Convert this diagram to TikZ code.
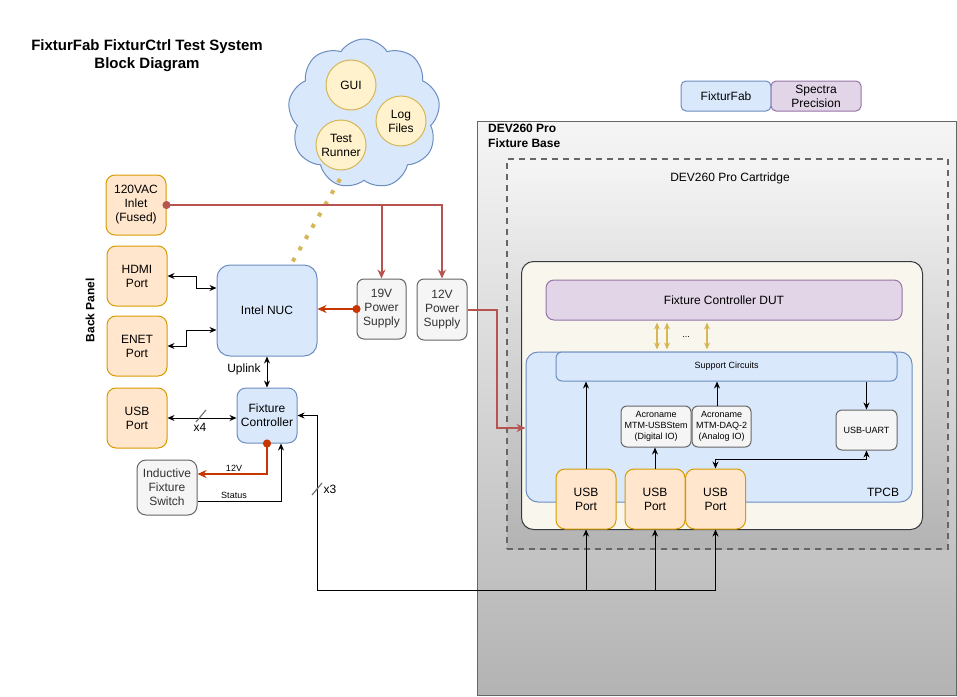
\documentclass[tikz,border=0pt]{standalone}
\usepackage{fontspec}
\setmainfont{Liberation Sans}
\usetikzlibrary{arrows.meta,shapes.symbols,calc}
\definecolor{bluefill}{HTML}{DAE8FC}
\definecolor{bluestroke}{HTML}{6C8EBF}
\definecolor{orfill}{HTML}{FFE6CC}
\definecolor{orstroke}{HTML}{D79B00}
\definecolor{yfill}{HTML}{FFF2CC}
\definecolor{ystroke}{HTML}{D6B656}
\definecolor{gfill}{HTML}{F5F5F5}
\definecolor{gstroke}{HTML}{666666}
\definecolor{pfill}{HTML}{E1D5E7}
\definecolor{pstroke}{HTML}{9673A6}
\definecolor{redline}{HTML}{B85450}
\definecolor{orline}{HTML}{C73500}
\definecolor{creamfill}{HTML}{F9F7ED}
\definecolor{creamstroke}{HTML}{36393D}
\definecolor{basebottom}{HTML}{B3B3B3}
\tikzset{
  fs12/.style={font=\fontsize{12}{14}\selectfont},
  fs9/.style={font=\fontsize{9}{11}\selectfont},
  box/.style={draw, rounded corners=9pt, align=center, inner sep=0pt, fs12, line width=1pt},
  portbox/.style={box, fill=orfill, draw=orstroke, minimum width=60pt, minimum height=60pt},
  bluebox/.style={box, fill=bluefill, draw=bluestroke},
  graybox/.style={box, fill=gfill, draw=gstroke},
  purplebox/.style={box, fill=pfill, draw=pstroke},
  swcircle/.style={circle, draw=ystroke, fill=yfill, minimum size=50pt, inner sep=0pt, align=center, fs12, line width=1pt},
  conn/.style={draw=black, line width=1pt},
  tipA/.tip={Stealth[length=7pt,width=6pt]},
  arr/.style={conn, -tipA},
  biarr/.style={conn, tipA-tipA},
  redarr/.style={draw=redline, line width=2pt, -{Stealth[length=9pt,width=8pt]}},
  orarr/.style={draw=orline, line width=2pt, {Circle[length=8pt]}-{Stealth[length=9pt,width=8pt]}, shorten <=-4pt},
  slash/.style={draw=gray!90!black, line width=1.2pt},
  lbl/.style={inner sep=0pt, fs12},
  smalllbl/.style={inner sep=0pt, fs9},
}
\begin{document}
\begin{tikzpicture}[x=1pt,y=-1pt]
\useasboundingbox (0,0) rectangle (957,696);
% title
\node[font=\bfseries\fontsize{15}{18}\selectfont, align=center, inner sep=0pt] (title) at (147,56) {FixturFab FixturCtrl Test System\\Block Diagram};
% cloud
\node[cloud, cloud puffs=9, cloud puff arc=115, aspect=1, draw=bluestroke, fill=bluefill, minimum width=152pt, minimum height=150pt, line width=1pt] (cloud) at (364,114) {};
\node[swcircle] (gui) at (351,85) {GUI};
\node[swcircle] (logs) at (401,121) {Log\\Files};
\node[swcircle] (runner) at (341,145) {Test\\Runner};
% legend
\node[bluebox, rounded corners=5pt, minimum width=90pt, minimum height=30pt] (legfab) at (726,96) {FixturFab};
\node[purplebox, rounded corners=5pt, minimum width=90pt, minimum height=30pt] (legsp) at (816,96) {Spectra\\Precision};
% fixture base
\node[draw=gstroke, line width=1pt, top color=gfill, bottom color=basebottom, minimum width=479pt, minimum height=574pt, inner sep=0pt, anchor=north west] (base) at (477,121) {};
\node[anchor=north west, align=left, inner sep=0pt, font=\bfseries\fontsize{12}{15}\selectfont] (baselbl) at (488,124) {DEV260 Pro\\Fixture Base};
% cartridge
\node[draw=gstroke, line width=2pt, dash pattern=on 6pt off 5pt, top color=gfill, bottom color=basebottom, minimum width=441pt, minimum height=390pt, inner sep=0pt, anchor=north west] (cart) at (506,158) {};
\node[lbl] (cartlbl) at (730,178) {DEV260 Pro Cartridge};
% cream board
\node[draw=creamstroke, fill=creamfill, line width=1pt, rounded corners=12pt, minimum width=401pt, minimum height=268pt, inner sep=0pt, anchor=north west] (board) at (521,261) {};
\node[purplebox, minimum width=356pt, minimum height=40pt, rounded corners=8pt] (dut) at (724,300) {Fixture Controller DUT};
\node[bluebox, minimum width=386pt, minimum height=150pt, rounded corners=12pt] (tpcb) at (719,427) {};
\node[lbl] (tpcblbl) at (883,492) {TPCB};
\node[bluebox, fs9, minimum width=341pt, minimum height=29pt, rounded corners=6pt] (sc) at (726.5,366.5) {Support Circuits};
\node[graybox, fs9, minimum width=70pt, minimum height=41pt, rounded corners=6pt] (stem) at (656,426.5) {Acroname\\MTM-USBStem\\(Digital IO)};
\node[graybox, fs9, minimum width=59pt, minimum height=41pt, rounded corners=6pt] (daq) at (721.5,426.5) {Acroname\\MTM-DAQ-2\\(Analog IO)};
\node[graybox, fs9, minimum width=61pt, minimum height=40pt, rounded corners=6pt] (uart) at (866.5,430) {USB-UART};
\node[portbox] (p1) at (586,499) {USB\\Port};
\node[portbox] (p2) at (655,499) {USB\\Port};
\node[portbox] (p3) at (715.5,499) {USB\\Port};
% yellow bidirectional arrows
\foreach \xx/\nm in {657/ya,667/yb,707/yc}{
  \coordinate (\nm) at (\xx,0);
  \draw[draw=ystroke, line width=1.3pt, {Stealth[length=7pt,width=6pt]}-{Stealth[length=7pt,width=6pt]}, shorten <=2pt, shorten >=2pt] (dut.south -| \nm) -- (sc.north -| \nm);
}
\node[smalllbl] (dots) at (686,337) {...};
% inner connectors
\draw[arr] (p1.north) -- (p1.north |- sc.south);
\draw[arr] (p2.north) -- (p2.north |- stem.south);
\coordinate (daqx) at (717,0);
\draw[arr] (daq.north -| daqx) -- (sc.south -| daqx);
\draw[arr] (sc.south -| uart.north) -- (uart.north);
\draw[biarr] (p3.north) -- ++(0,-9) -| (uart.south);
% left side nodes
\node[portbox] (inlet) at (136,205) {120VAC\\Inlet\\(Fused)};
\node[portbox] (hdmi) at (137,276) {HDMI\\Port};
\node[portbox] (enet) at (137,346) {ENET\\Port};
\node[portbox] (usb) at (137,418) {USB\\Port};
\node[rotate=90, inner sep=0pt, font=\bfseries\fontsize{12}{14}\selectfont] (bp) at (90,310) {Back Panel};
\node[bluebox, minimum width=100pt, minimum height=91pt, rounded corners=13pt] (nuc) at (267,310.5) {Intel NUC};
\node[graybox, minimum width=49pt, minimum height=60pt, rounded corners=7pt, text=black!80] (ps19) at (381.5,309) {19V\\Power\\Supply};
\node[graybox, minimum width=50pt, minimum height=61pt, rounded corners=7pt, text=black!80] (ps12) at (442,309.5) {12V\\Power\\Supply};
\node[bluebox, minimum width=60pt, minimum height=55pt] (fc) at (267,415.5) {Fixture\\Controller};
\node[graybox, minimum width=60pt, minimum height=55pt, text=black!80] (ifs) at (167,487.5) {Inductive\\Fixture\\Switch};
% cloud dotted link
\coordinate (dotA) at (340,179);
\coordinate (dotB) at (291,0);
\draw[draw=ystroke, line width=4pt, dash pattern=on 4pt off 9pt] (dotA) -- (nuc.north -| dotB);
% left connectors
\coordinate (hdmiK) at (196,288);
\draw[biarr] (hdmi.east) -| (hdmiK) -- (nuc.west |- hdmiK);
\coordinate (enetK) at (186,330);
\draw[biarr] (enet.east) -| (enetK) -- (nuc.west |- enetK);
\draw[biarr] (nuc.south) -- (fc.north);
\node[lbl] (uplink) at (244,369) {Uplink};
\draw[biarr] (usb.east) -- (usb.east -| fc.west);
\coordinate (s4a) at (196,422);
\coordinate (s4b) at (206,410);
\draw[slash] (s4a) -- (s4b);
\node[lbl] (x4) at (200,427) {x4};
% power
\draw[draw=redline, line width=2pt, {Circle[length=8pt]}-{Stealth[length=9pt,width=8pt]}, shorten <=-4pt] (inlet.east) -| (ps12.north);
\draw[redarr] (ps19.north |- inlet.east) -- (ps19.north);
\draw[orarr] (ps19.west) -- (nuc.east |- ps19.west);
\coordinate (k12) at (497,428);
\draw[redarr] (ps12.east) -| (k12) -- (tpcb.west |- k12);
\coordinate (k12v) at (0,474);
\draw[orarr] (fc.south) |- (ifs.east |- k12v);
\node[smalllbl] (l12v) at (234,468) {12V};
\coordinate (kst) at (0,501);
\coordinate (kstx) at (281,0);
\draw[arr] (ifs.east |- kst) -| (fc.south -| kstx);
\node[smalllbl] (lstatus) at (234,495) {Status};
% x3 bus
\coordinate (busL) at (317,590);
\draw[arr] (busL) |- (fc.east);
\draw[conn] (busL) -- (p3.south |- busL);
\draw[arr] (p1.south |- busL) -- (p1.south);
\draw[arr] (p2.south |- busL) -- (p2.south);
\draw[arr] (p3.south |- busL) -- (p3.south);
\coordinate (s3a) at (312,495);
\coordinate (s3b) at (322,483);
\draw[slash] (s3a) -- (s3b);
\node[lbl] (x3) at (330,489) {x3};
\end{tikzpicture}
\end{document}
